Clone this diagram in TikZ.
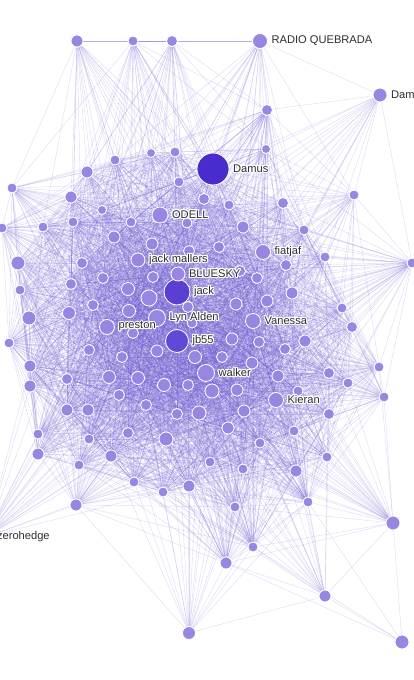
\documentclass[tikz,border=0pt]{standalone}
\usepackage{fontspec}
\setmainfont{Liberation Sans}
\usepackage[copies]{contour}
\contourlength{0.9pt}
\usepackage{tikz}
\usetikzlibrary{positioning}
\usetikzlibrary{backgrounds}
\definecolor{peer}{HTML}{9886E2}
\definecolor{hub}{HTML}{4A2BCB}
\definecolor{hubjack}{HTML}{5B3FD3}
\definecolor{hubjb}{HTML}{6248D6}
\definecolor{linkc}{HTML}{6F5CD6}
\definecolor{tagtext}{HTML}{2E2E2E}
\tikzstyle{peernode} = [circle, draw=white, line width=0.7pt, inner sep=0pt]
\tikzstyle{link} = [draw=linkc, line width=0.35pt, opacity=0.22]
\tikzstyle{tag} = [text=tagtext, inner sep=1.5pt, font=\fontsize{9.5}{10}\selectfont]

\begin{document}
\begin{tikzpicture}[x=0.03cm, y=-0.03cm]
                        \useasboundingbox (0,0) rectangle (413,680);

                        \foreach \x/\y/\r/\c [count=\i] in {213/169/16/hub, 177/292/13/hubjack, 177/341/11.5/hubjb,
                            260/41/7.5/peer, 380/95/7/peer, 160/215/8/peer, 263/252/7.5/peer, 138/260/7/peer,
                            178/274/7/peer, 157/318/8.5/peer, 253/321/7.5/peer, 107/327/7.5/peer, 206/373/8.5/peer,
                            276/400/7.5/peer, -14/537/7/peer,
                            77/41/6/peer, 133/41/5/peer, 172/41/5.5/peer, 267/110/5.5/peer, 266/149/4.5/peer,
                            175/152/5/peer, 151/153/4.5/peer, 115/160/5/peer, 87/172/6/peer, 12/188/5/peer,
                            179/182/5/peer, 71/197/6/peer, 204/199/5.5/peer, 229/205/5/peer, 283/203/5.5/peer,
                            354/195/5/peer, 102/210/4.5/peer, 73/222/5/peer, 131/222/5/peer, 187/223/5/peer,
                            243/227/6/peer, 304/230/5/peer, 43/227/5/peer, 2/228/5/peer, 114/237/6/peer,
                            152/244/6/peer, 189/251/5.5/peer, 219/247/5.5/peer, 325/257/5/peer, 286/265/5.5/peer,
                            412/263/5/peer, 18/263/7/peer, 82/263/5.5/peer, 153/277/5.5/peer, 103/278/5.5/peer,
                            240/271/5.5/peer, 257/278/5.5/peer, 71/284/5.5/peer, 20/290/5/peer, 128/289/6.5/peer,
                            149/298/8/peer, 292/293/6/peer, 93/305/5.5/peer, 188/307/5.5/peer, 236/304/6/peer,
                            267/301/6/peer, 342/308/5/peer, 129/311/6.5/peer, 29/318/7/peer, 69/313/6.5/peer,
                            352/327/5.5/peer, 133/333/5.5/peer, 192/323/5/peer, 9/343/5/peer, 232/339/6/peer,
                            259/342/5.5/peer, 305/341/6/peer, 285/349/5.5/peer, 89/350/5.5/peer, 157/351/6/peer,
                            122/357/5.5/peer, 195/357/6.5/peer, 222/357/5.5/peer, 379/367/5/peer, 30/366/6/peer,
                            252/363/6/peer, 329/373/5.5/peer, 67/379/5.5/peer, 109/377/6.5/peer, 138/378/6.5/peer,
                            164/385/6.5/peer, 188/385/5.5/peer, 278/376/6/peer, 30/386/6/peer, 348/383/5/peer,
                            237/390/6/peer, 212/391/7/peer, 298/391/5/peer, 384/397/5/peer, 119/395/5.5/peer,
                            67/410/6/peer, 88/410/6/peer, 146/405/5.5/peer, 177/414/5.5/peer, 199/413/7/peer,
                            244/411/6/peer, 329/414/5.5/peer, 38/434/5/peer, 89/439/5/peer, 128/433/5.5/peer,
                            166/439/7/peer, 228/428/6/peer, 294/431/5/peer, 260/443/5/peer, 38/454/6/peer,
                            79/465/5/peer, 111/456/6/peer, 210/462/5/peer, 243/469/5/peer, 296/471/6/peer,
                            327/457/5/peer, 134/482/5/peer, 163/492/5/peer, 189/486/6/peer, 235/507/5/peer,
                            308/502/5/peer, 76/505/6/peer, 393/523/7/peer, 253/547/5/peer, 226/563/6/peer,
                            325/596/6/peer, 189/633/6.5/peer, 402/642/7/peer} {
                            \node[peernode, fill=\c, minimum size=\r*0.06cm] (n\i) at (\x,\y) {};
                            \pgfmathparse{veclen((\x)-180,(\y)-315)}
                            \expandafter\xdef\csname nr\i\endcsname{\pgfmathresult}
                            \expandafter\xdef\csname nx\i\endcsname{\x}
                            \expandafter\xdef\csname ny\i\endcsname{\y}
                            \xdef\peers{\i}
                        }

                        \begin{pgfonlayer}{background}
                            \fill[white] (0,0) rectangle (413,680);
                            \foreach \i in {1,...,\peers} {
                                \edef\ax{\csname nx\i\endcsname}\edef\ay{\csname ny\i\endcsname}\edef\ar{\csname nr\i\endcsname}
                                \foreach \j in {\i,...,\peers} {
                                    \ifnum\j>\i
                                        \edef\bx{\csname nx\j\endcsname}\edef\by{\csname ny\j\endcsname}\edef\br{\csname nr\j\endcsname}
                                        \pgfmathparse{veclen((\ax)-(\bx),(\ay)-(\by))}
                                        \let\gap\pgfmathresult
                                        \pgfmathparse{or(\gap<195,and(\gap<250,and(max(\ar,\br)>220,min(\ar,\br)<120)))}
                                        \ifdim\pgfmathresult pt>0.5pt \draw[link] (n\i) -- (n\j); \fi
                                    \fi
                                }
                            }
                        \end{pgfonlayer}

                        \node[tag, right=0.5mm of n1] (damus) {\contour{white}{Damus}};
                        \node[tag, right=0.5mm of n2] (jack) {\contour{white}{jack}};
                        \node[tag, right=0.5mm of n3] (jb55) {\contour{white}{jb55}};
                        \node[tag, right=0.5mm of n4] (radio) {RADIO QUEBRADA};
                        \node[tag, right=0.5mm of n5] (dam) {Dam};
                        \node[tag, right=0.5mm of n6] (odell) {\contour{white}{ODELL}};
                        \node[tag, right=0.5mm of n7] (fiatjaf) {\contour{white}{fiatjaf}};
                        \node[tag, right=0.5mm of n8] (mallers) {\contour{white}{jack mallers}};
                        \node[tag, right=0.5mm of n9] (bluesky) {\contour{white}{BLUESKY}};
                        \node[tag, right=0.5mm of n10] (lyn) {\contour{white}{Lyn Alden}};
                        \node[tag, right=0.5mm of n11] (vanessa) {\contour{white}{Vanessa}};
                        \node[tag, right=0.5mm of n12] (preston) {\contour{white}{preston}};
                        \node[tag, right=0.5mm of n13] (walker) {\contour{white}{walker}};
                        \node[tag, right=0.5mm of n14] (kieran) {\contour{white}{Kieran}};
                        \node[tag, right=0.5mm of n15] (zerohedge) {zerohedge};
                    \end{tikzpicture}
\end{document}
